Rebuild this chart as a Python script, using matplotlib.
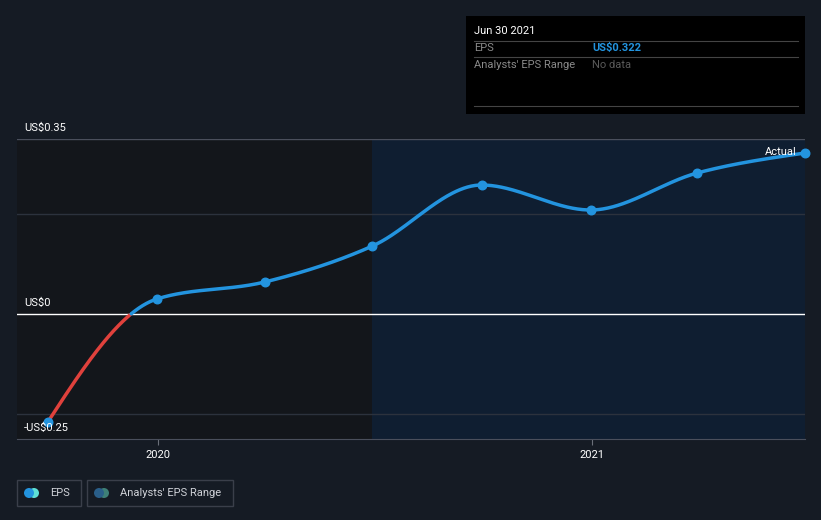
import numpy as np
import matplotlib
matplotlib.use("Agg")
import matplotlib.pyplot as plt
import matplotlib.dates as mdates
from matplotlib.patches import Rectangle, Ellipse
import datetime as dt

plt.rcParams['font.family'] = ['Roboto', 'DejaVu Sans']

# data
dates = ["2019-09-30", "2019-12-31", "2020-03-31", "2020-06-30",
         "2020-09-30", "2020-12-31", "2021-03-31", "2021-06-30"]
eps = [-0.216, 0.030, 0.064, 0.136, 0.258, 0.208, 0.282, 0.322]
y_ticks = [-0.25, 0.0, 0.35]
y_labels = ["-US$0.25", "US$0", "US$0.35"]
grid_vals = [-0.2, 0.2]
x_ticks = ["2020-01-01", "2021-01-01"]
x_labels = ["2020", "2021"]
forecast_start = "2020-06-30"

BG = '#151b24'
BLUE = '#2394df'
RED = '#e0413c'


def monotone(x, y, n=600):
    # d3-style monotone cubic
    x = np.asarray(x, float); y = np.asarray(y, float)
    h = np.diff(x); s = np.diff(y) / h
    m = np.zeros_like(y)
    for i in range(1, len(y) - 1):
        if s[i-1] * s[i] <= 0:
            m[i] = 0
        else:
            p = (s[i-1] * h[i] + s[i] * h[i-1]) / (h[i-1] + h[i])
            m[i] = np.sign(s[i-1]) * min(abs(s[i-1]), abs(s[i]), 0.5 * abs(p)) * 2
    m[0] = (3 * s[0] - m[1]) / 2
    m[-1] = (3 * s[-1] - m[-2]) / 2
    xs = np.linspace(x[0], x[-1], n)
    idx = np.clip(np.searchsorted(x, xs) - 1, 0, len(h) - 1)
    t = (xs - x[idx]) / h[idx]
    h00 = 2*t**3 - 3*t**2 + 1; h10 = t**3 - 2*t**2 + t
    h01 = -2*t**3 + 3*t**2; h11 = t**3 - t**2
    ys = h00*y[idx] + h10*h[idx]*m[idx] + h01*y[idx+1] + h11*h[idx]*m[idx+1]
    return xs, ys


xd = np.array([mdates.date2num(dt.datetime.fromisoformat(d)) for d in dates])
xs, ys = monotone(xd, eps)

fig = plt.figure(figsize=(8.21, 5.2), dpi=100, facecolor=BG)
ax = fig.add_axes([17/821, 81/520, 788/821, 300/520])
ax.set_facecolor(BG)
x0 = xd[0] - 26
x1 = xd[-1]
ax.set_xlim(x0, x1)
ax.set_ylim(-0.25, 0.35)

fs = mdates.date2num(dt.datetime.fromisoformat(forecast_start))
ax.axvspan(x0, fs, color='#13161b', zorder=0, lw=0)
ax.axvspan(fs, x1, color='#0f1e31', zorder=0, lw=0)

for g in grid_vals:
    ax.axhline(g, color='#2c323d', lw=1, zorder=1)
ax.axhline(0.35, color='#4a4f5c', lw=1, zorder=1)
ax.axhline(0.0, color='white', lw=1, zorder=2)

neg = np.where(ys <= 0, ys, np.nan)
pos = np.where(ys >= 0, ys, np.nan)
ax.plot(xs, neg, color=RED, lw=2.5, zorder=3, solid_capstyle='round')
ax.plot(xs, pos, color=BLUE, lw=2.5, zorder=3, solid_capstyle='round')
ax.scatter(xd, eps, s=38, color=BLUE, zorder=4, clip_on=False)
ax.text(xd[-1] - 7, eps[-1] + 0.002, "Actual", color='white', fontsize=8,
        ha='right', va='center', zorder=5)

for v, lab in zip(y_ticks, y_labels):
    ax.text(x0 + 6, v + 0.012, lab, color='white', fontsize=8, ha='left',
            va='bottom', zorder=5)

ax.set_yticks([])
xt = [mdates.date2num(dt.datetime.fromisoformat(d)) for d in x_ticks]
ax.set_xticks(xt)
ax.set_xticklabels(x_labels, color='white', fontsize=8)
ax.tick_params(axis='x', colors='#6b707a', length=4, labelcolor='white', pad=4)
for s in ['top', 'left', 'right']:
    ax.spines[s].set_visible(False)
ax.spines['bottom'].set_color('#4a4f5c')

# tooltip box
fig.patches.append(Rectangle((466/821, 1 - 114/520), 339/821, 98/520,
                             transform=fig.transFigure, facecolor='black',
                             edgecolor='none', zorder=1))
for yy in [41, 57, 106]:
    fig.add_artist(plt.Line2D([474/821, 798/821], [1 - yy/520] * 2,
                              transform=fig.transFigure, color='#444',
                              lw=0.8))
fig.text(474/821, 1 - 31/520, "Jun 30 2021", color='white', fontsize=8,
         va='center')
fig.text(474/821, 1 - 48/520, "EPS", color='#8a8a8a', fontsize=8, va='center')
fig.text(592/821, 1 - 48/520, "US$0.322", color=BLUE, fontsize=8,
         va='center', fontweight='bold')
fig.text(474/821, 1 - 65/520, "Analysts' EPS Range", color='#8a8a8a',
         fontsize=8, va='center')
fig.text(592/821, 1 - 65/520, "No data", color='#5a5a5a', fontsize=8,
         va='center')

# legend
legend_items = [("EPS", BLUE, '#5ee0d6', 17, 64),
                ("Analysts' EPS Range", '#2a5f8a', '#3e8077', 87, 146)]
for lab, c1, c2, lx, w in legend_items:
    fig.patches.append(Rectangle((lx/821, 1 - 506/520), w/821, 26/520,
                                 transform=fig.transFigure, facecolor='none',
                                 edgecolor='#3a3f4a', lw=1))
    fig.patches.append(Ellipse(((lx + 17)/821, 1 - 493/520), 10/821, 10/520,
                               transform=fig.transFigure, facecolor=c2,
                               edgecolor='none'))
    fig.patches.append(Ellipse(((lx + 12)/821, 1 - 493/520), 10/821, 10/520,
                               transform=fig.transFigure, facecolor=c1,
                               edgecolor='none'))
    fig.text((lx + 33)/821, 1 - 493/520, lab, color='#cfd2d8', fontsize=8,
             va='center')

fig.savefig("out.png", dpi=100, facecolor=BG)
